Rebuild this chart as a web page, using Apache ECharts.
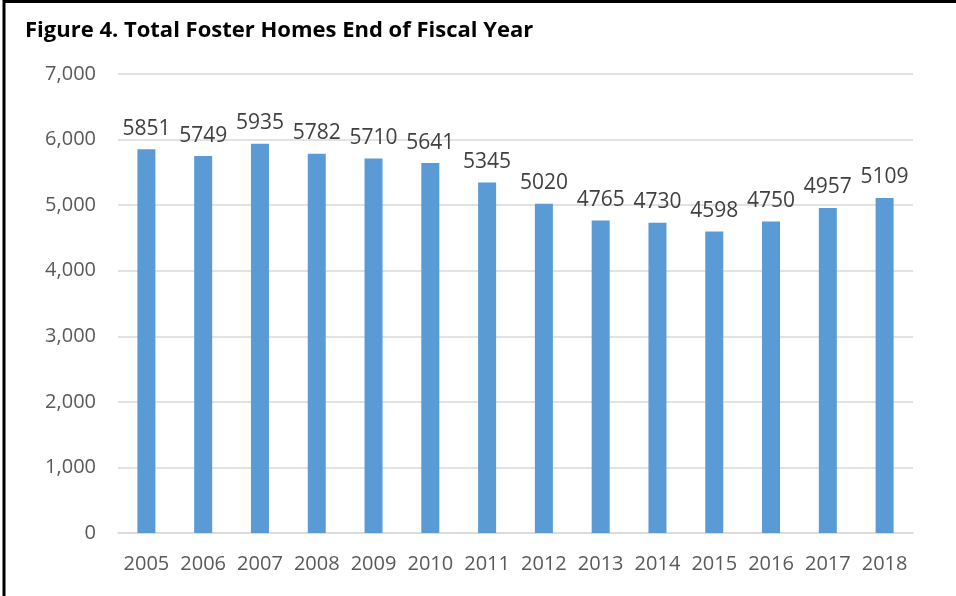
<!DOCTYPE html>
<html>
<head>
<meta charset="utf-8">
<script src="https://cdn.jsdelivr.net/npm/echarts@6/dist/echarts.min.js"></script>
<style>
  html, body { margin: 0; padding: 0; background: #fff; }
  #main { width: 956px; height: 596px; }
</style>
</head>
<body>
<div id="main"></div>
<script>
var years = ['2005', '2006', '2007', '2008', '2009', '2010', '2011', '2012', '2013', '2014', '2015', '2016', '2017', '2018'];
var fosterHomes = [5851, 5749, 5935, 5782, 5710, 5641, 5345, 5020, 4765, 4730, 4598, 4750, 4957, 5109];
var yTicks = [0, 1000, 2000, 3000, 4000, 5000, 6000, 7000];

var font = '"Open Sans", "Liberation Sans", sans-serif';

var myChart = echarts.init(document.getElementById('main'));

var option = {
	animation : false,
	title : {
		text : 'Figure 4. Total Foster Homes End of Fiscal Year',
		left : 20,
		top : 15,
		textStyle : {
			fontFamily : font,
			fontWeight : 'bold',
			fontSize : 22,
			color : '#000'
		}
	},
	graphic : [ {
		type : 'rect',
		shape : { x : 4, y : 1.5, width : 960, height : 600 },
		style : { fill : 'none', stroke : '#000', lineWidth : 3 }
	} ],
	grid : {
		left : 118,
		right : 43,
		top : 74,
		bottom : 63,
		containLabel : false
	},
	xAxis : {
		type : 'category',
		data : years,
		axisTick : { show : false },
		axisLine : { lineStyle : { color : '#d9d9d9', width : 1.5 } },
		axisLabel : {
			interval : 0,
			hideOverlap : false,
			margin : 21,
			fontFamily : font,
			fontSize : 20,
			color : '#595959'
		}
	},
	yAxis : {
		type : 'value',
		min : yTicks[0],
		max : yTicks[yTicks.length - 1],
		interval : 1000,
		axisLine : { show : false },
		axisTick : { show : false },
		splitLine : { lineStyle : { color : '#d9d9d9', width : 1.5 } },
		axisLabel : {
			margin : 22,
			fontFamily : font,
			fontSize : 20,
			color : '#595959',
			formatter : function(v) {
				return v.toLocaleString('en-US');
			}
		}
	},
	series : [ {
		type : 'bar',
		data : fosterHomes,
		barWidth : 18,
		itemStyle : { color : '#5b9bd5' },
		label : {
			show : true,
			position : 'top',
			distance : 10,
			fontFamily : font,
			fontSize : 21,
			color : '#404040'
		},
		labelLayout : { hideOverlap : false }
	} ]
};

myChart.setOption(option);
</script>
</body>
</html>
